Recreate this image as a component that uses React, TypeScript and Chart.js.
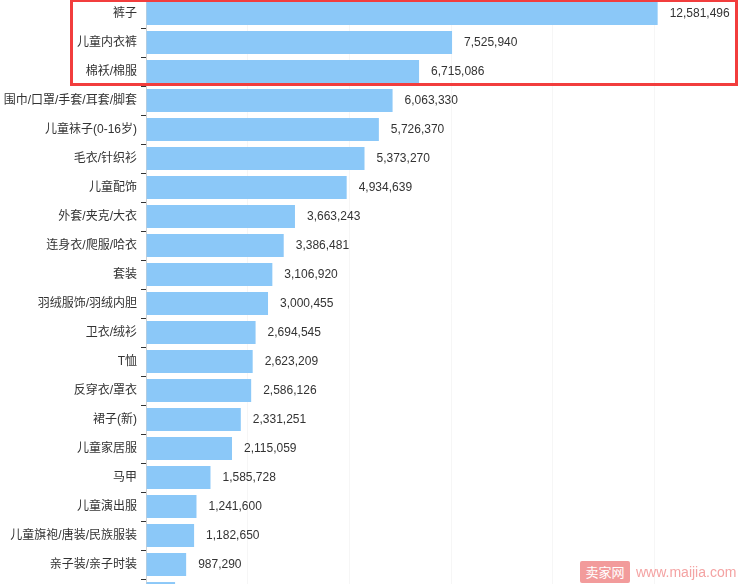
import React, { useEffect, useRef } from "react";
import { Chart, registerables } from "chart.js";

Chart.register(...registerables);

const categories: string[] = [
  "裤子",
  "儿童内衣裤",
  "棉袄/棉服",
  "围巾/口罩/手套/耳套/脚套",
  "儿童袜子(0-16岁)",
  "毛衣/针织衫",
  "儿童配饰",
  "外套/夹克/大衣",
  "连身衣/爬服/哈衣",
  "套装",
  "羽绒服饰/羽绒内胆",
  "卫衣/绒衫",
  "T恤",
  "反穿衣/罩衣",
  "裙子(新)",
  "儿童家居服",
  "马甲",
  "儿童演出服",
  "儿童旗袍/唐装/民族服装",
  "亲子装/亲子时装",
  "",
];

const salesValues: number[] = [
  12581496, 7525940, 6715086, 6063330, 5726370, 5373270, 4934639, 3663243,
  3386481, 3106920, 3000455, 2694545, 2623209, 2586126, 2331251, 2115059,
  1585728, 1241600, 1182650, 987290, 715000,
];

const highlightCount = 3;
const xTickStep = 2500000;
const xMax = 15000000;

const LABEL_FONT = '12px "Liberation Sans", "Noto Sans CJK SC", sans-serif';
const VALUE_FONT = '12px "Liberation Sans", Arial, sans-serif';

const valueLabelPlugin = {
  id: "valueLabels",
  afterDatasetsDraw(chart: any) {
    const ctx = chart.ctx;
    const meta = chart.getDatasetMeta(0);
    ctx.save();
    ctx.font = VALUE_FONT;
    ctx.fillStyle = "#333";
    ctx.textAlign = "left";
    ctx.textBaseline = "middle";
    meta.data.forEach((bar: any, i: number) => {
      const v = salesValues[i];
      ctx.fillText(v.toLocaleString("en-US"), bar.x + 12, bar.y + 0.5);
    });
    ctx.restore();
  },
};

const highlightPlugin = {
  id: "highlightBox",
  afterDraw(chart: any) {
    const ctx = chart.ctx;
    const y = chart.scales.y;
    const meta = chart.getDatasetMeta(0);
    const half = (y.getPixelForValue(1) - y.getPixelForValue(0)) / 2;
    const top = y.getPixelForValue(0) - half + 1.5;
    const bottom = y.getPixelForValue(highlightCount - 1) + half - 1.5;
    ctx.save();
    ctx.font = LABEL_FONT;
    let maxLabel = 0;
    for (let i = 0; i < highlightCount; i++) {
      maxLabel = Math.max(maxLabel, ctx.measureText(categories[i]).width);
    }
    const labelRight = y.right - 9;
    const left = labelRight - maxLabel - 6;
    ctx.font = VALUE_FONT;
    let maxRight = 0;
    for (let i = 0; i < highlightCount; i++) {
      const w = ctx.measureText(salesValues[i].toLocaleString("en-US")).width;
      maxRight = Math.max(maxRight, meta.data[i].x + 12 + w);
    }
    const right = maxRight + 6;
    ctx.strokeStyle = "#f23d3d";
    ctx.lineWidth = 3;
    ctx.strokeRect(Math.round(left) + 0.5, top, Math.round(right - left), bottom - top);
    ctx.restore();
  },
};

function BarChart() {
  const ref = useRef<HTMLCanvasElement | null>(null);
  useEffect(() => {
    if (!ref.current) return;
    const chart = new Chart(ref.current, {
      type: "bar",
      data: {
        labels: categories,
        datasets: [
          {
            data: salesValues,
            backgroundColor: "#8bc8f8",
            borderWidth: 0,
            barPercentage: 0.79,
            categoryPercentage: 1,
          },
        ],
      },
      options: {
        indexAxis: "y",
        animation: false,
        responsive: false,
        devicePixelRatio: 1,
        layout: { padding: 0 },
        plugins: {
          legend: { display: false },
          tooltip: { enabled: false },
        },
        scales: {
          x: {
            min: 0,
            max: xMax,
            ticks: { display: false, stepSize: xTickStep },
            grid: {
              color: "rgba(0,0,0,0.035)",
              drawTicks: false,
            },
            border: { display: false },
            afterFit: (scale: any) => {
              scale.paddingLeft = 0;
              scale.paddingRight = 0;
            },
          },
          y: {
            afterFit: (scale: any) => {
              scale.width = 146;
              scale.paddingTop = 0;
              scale.paddingBottom = 0;
            },
            ticks: {
              autoSkip: false,
              padding: 4,
              color: "#333",
              font: {
                family: '"Liberation Sans", "Noto Sans CJK SC", sans-serif',
                size: 12,
              },
            },
            grid: {
              drawOnChartArea: false,
              tickLength: 5,
              tickColor: "#333",
              offset: true,
            },
            border: { display: true, color: "#d0d0d0" },
          },
        },
      },
      plugins: [valueLabelPlugin, highlightPlugin],
    });
    return () => chart.destroy();
  }, []);
  return (
    <canvas
      ref={ref}
      width={756}
      height={609}
      style={{ width: 756, height: 609, display: "block" }}
    />
  );
}

export default function App() {
  return (
    <div
      style={{
        position: "fixed",
        left: 0,
        top: 0,
        width: 740,
        height: 584,
        overflow: "hidden",
        background: "#fff",
      }}
    >
      <div style={{ position: "absolute", left: 0, top: -1 }}>
        <BarChart />
      </div>
      <div
        style={{
          position: "absolute",
          left: 580,
          top: 561,
          width: 50,
          height: 22,
          borderRadius: 2,
          background: "#f29b9b",
          color: "#fff",
          fontFamily: '"Noto Sans CJK SC", sans-serif',
          fontSize: 13,
          lineHeight: "22px",
          textAlign: "center",
        }}
      >
        卖家网
      </div>
      <div
        style={{
          position: "absolute",
          left: 636,
          top: 561,
          height: 22,
          color: "#f4a3a3",
          fontFamily: '"Liberation Sans", Arial, sans-serif',
          fontSize: 14,
          lineHeight: "22px",
          whiteSpace: "nowrap",
        }}
      >
        www.maijia.com
      </div>
    </div>
  );
}
